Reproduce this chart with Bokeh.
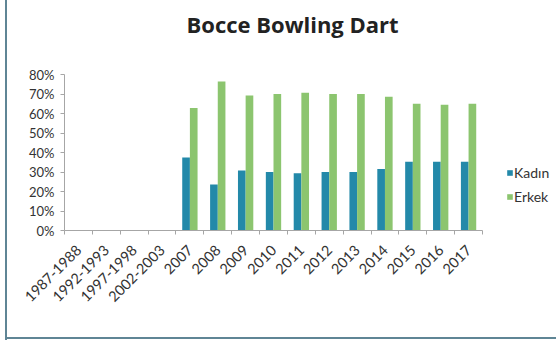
import math
from bokeh.plotting import figure
from bokeh.models import (ColumnDataSource, Range1d, FixedTicker, NumeralTickFormatter,
                          Legend, LegendItem, Title)
from bokeh.transform import dodge
from bokeh.embed import file_html
from bokeh.resources import INLINE

categories = ["1987-1988", "1992-1993", "1997-1998", "2002-2003", "2007", "2008", "2009",
              "2010", "2011", "2012", "2013", "2014", "2015", "2016", "2017"]
kadin = [None, None, None, None, 37.5, 23.6, 30.8, 30.0, 29.3, 30.0, 30.0, 31.5, 35.3, 35.3, 35.3]
erkek = [None, None, None, None, 62.8, 76.4, 69.2, 70.0, 70.7, 70.0, 70.0, 68.6, 65.0, 64.5, 65.0]
y_ticks = [0, 10, 20, 30, 40, 50, 60, 70, 80]

BLUE = "#2389a9"
GREEN = "#8cc56f"
FRAME = "#5f8595"
FONT = "Lato"

nan = float("nan")
n = len(categories)
xs = [i + 0.5 for i in range(n)]
src = ColumnDataSource(dict(
    x=xs,
    kadin=[nan if v is None else v / 100 for v in kadin],
    erkek=[nan if v is None else v / 100 for v in erkek],
))

W, H = 556, 343
left, top, bottom = 64, 74, 113
axis_px = 418  # pixel length of the category axis
p = figure(width=W, height=H, output_backend="svg", toolbar_location=None,
           x_range=Range1d(0, n * (W - left) / axis_px), y_range=Range1d(0, 0.8),
           min_border_left=left, min_border_right=0, min_border_top=top,
           min_border_bottom=bottom)
p.styles = {
    "background": (f"linear-gradient({FRAME},{FRAME}) 5px 0 / 2px 340px no-repeat, "
                   f"linear-gradient({FRAME},{FRAME}) 5px 337px / 551px 2px no-repeat, white"),
}

p.outline_line_color = None
p.grid.grid_line_color = None
p.background_fill_color = "white"
p.border_fill_color = None

bw = 0.275
r1 = p.vbar(x=dodge("x", -bw / 2, range=p.x_range), top="kadin", width=bw, source=src,
            fill_color=BLUE, line_color=None)
r2 = p.vbar(x=dodge("x", bw / 2, range=p.x_range), top="erkek", width=bw, source=src,
            fill_color=GREEN, line_color=None)

# title
p.title.text = "Bocce Bowling Dart"
p.title.text_font = "Open Sans"
p.title.text_font_style = "bold"
p.title.text_font_size = "22px"
p.title.text_color = "#222222"
p.title.align = "left"
p.title.offset = 122
p.add_layout(Title(text=" ", text_font_size="17px"), "above")

# y axis
ya = p.yaxis[0]
ya.ticker = FixedTicker(ticks=[t / 100 for t in y_ticks])
ya.formatter = NumeralTickFormatter(format="0%")
ya.axis_line_color = "#a6a6a6"
ya.major_tick_line_color = "#a6a6a6"
ya.major_tick_out = 4
ya.major_tick_in = 0
ya.minor_tick_line_color = None
ya.major_label_text_font = FONT
ya.major_label_text_font_size = "13px"
ya.major_label_text_color = "#333333"
ya.major_label_standoff = 6

# x axis
xa = p.xaxis[0]
xa.bounds = (0, n)
xa.ticker = FixedTicker(ticks=xs, minor_ticks=list(range(n + 1)))
xa.major_label_overrides = {x: c for x, c in zip(xs, categories)}
xa.axis_line_color = "#a6a6a6"
xa.major_tick_line_color = None
xa.minor_tick_line_color = "#a6a6a6"
xa.minor_tick_out = 4
xa.minor_tick_in = 0
xa.major_label_orientation = math.pi / 4
xa.major_label_text_font = FONT
xa.major_label_text_font_size = "14.5px"
xa.major_label_text_color = "#333333"
xa.major_label_standoff = 11

legend = Legend(items=[LegendItem(label="Kadın", renderers=[r1]),
                       LegendItem(label="Erkek", renderers=[r2])],
                location=(442, 24), orientation="vertical")
legend.border_line_color = None
legend.background_fill_alpha = 0
legend.padding = 0
legend.margin = 0
legend.glyph_width = 7
legend.glyph_height = 7
legend.label_standoff = 1
legend.label_height = 20
legend.spacing = 4
legend.label_text_font = FONT
legend.label_text_font_size = "14px"
legend.label_text_color = "#333333"
p.add_layout(legend, "center")

open("out.html", "w").write(file_html(p, INLINE))
